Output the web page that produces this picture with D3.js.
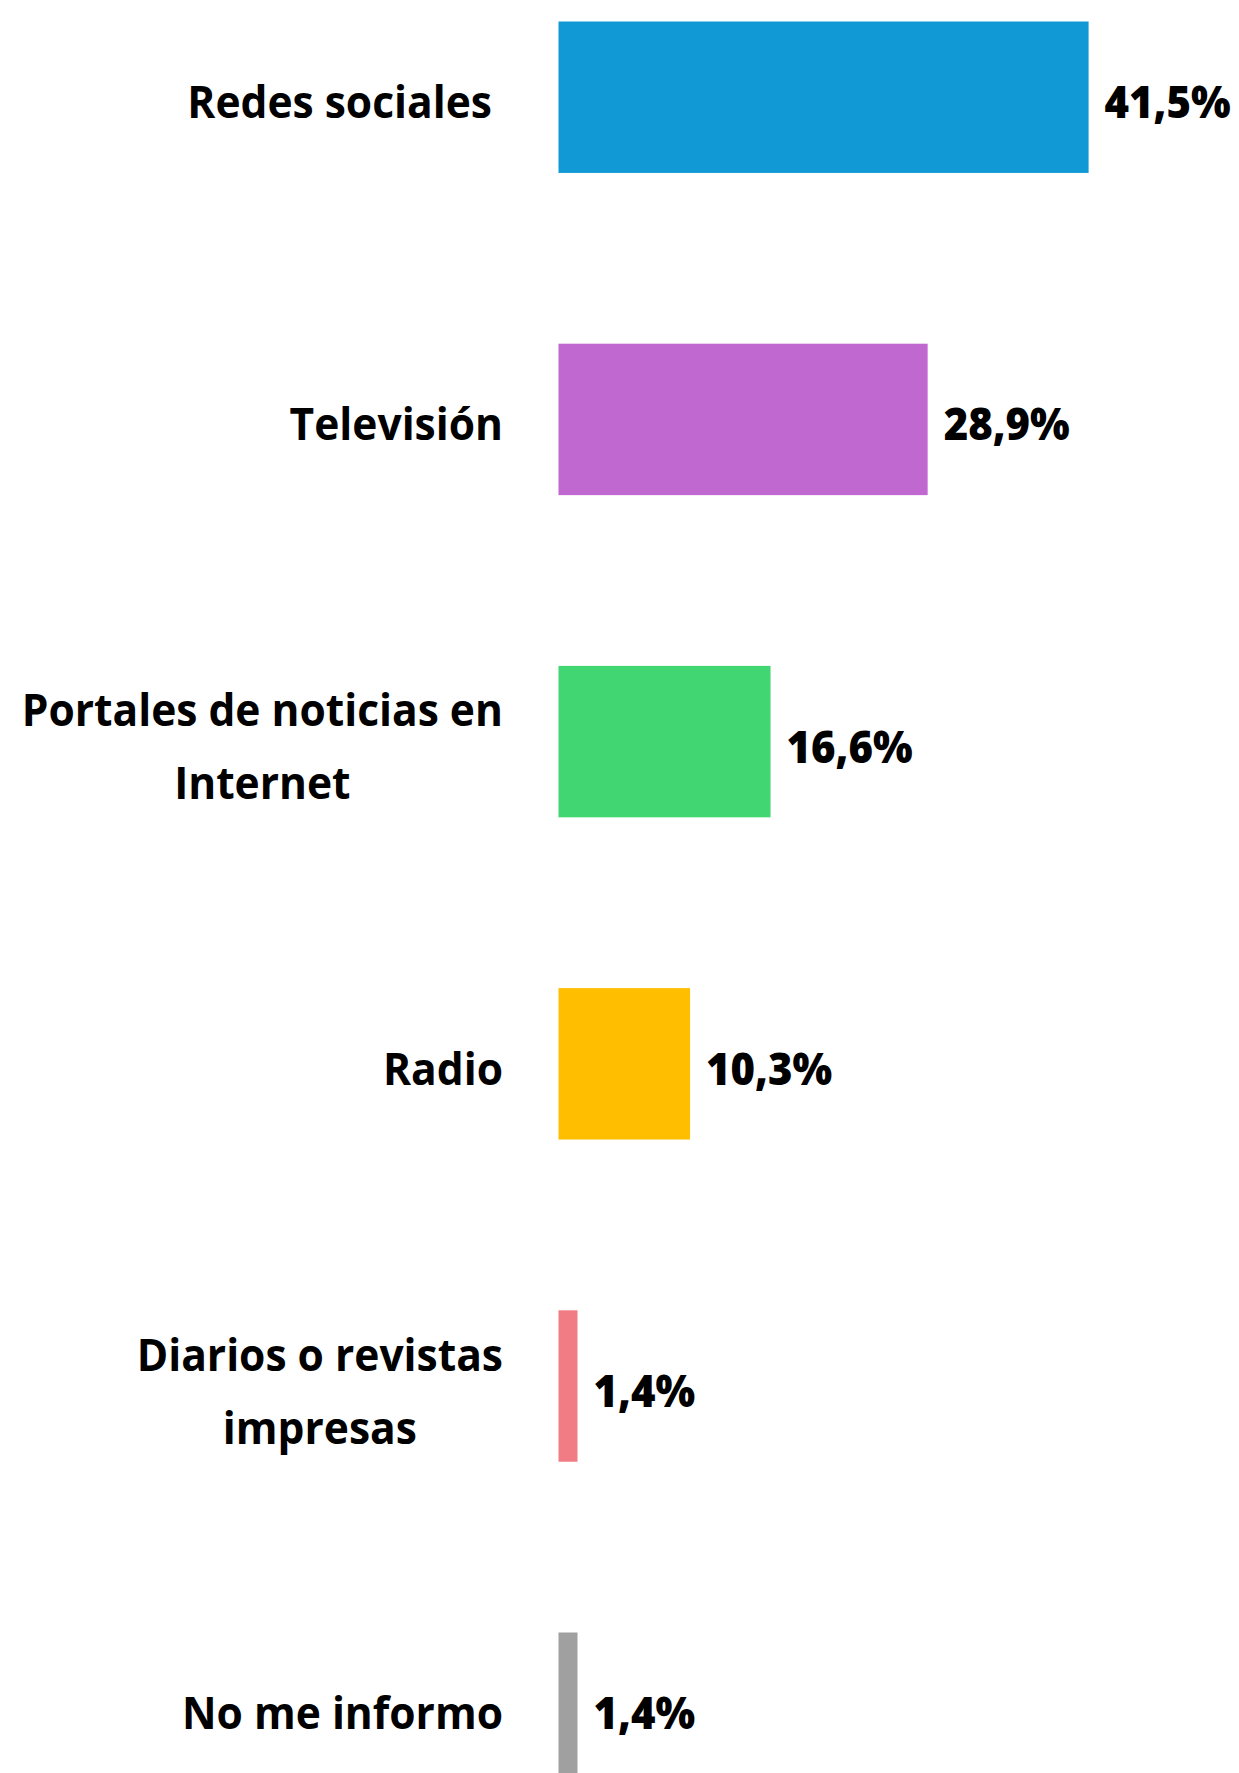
<!DOCTYPE html>
<html><head><meta charset="utf-8">
<script src="https://cdn.jsdelivr.net/npm/d3@7"></script>
<style>html,body{margin:0;padding:0;background:#fff;overflow:hidden}</style>
</head><body>
<svg id="chart" width="1239" height="1773"></svg>
<script>
const categories = ["Redes sociales", "Televisión", "Portales de noticias en Internet", "Radio", "Diarios o revistas impresas", "No me informo"];
const labelLines = [["Redes sociales\u00a0"], ["Televisión"], ["Portales de noticias en", "Internet"], ["Radio"], ["Diarios o revistas", "impresas"], ["No me informo"]];
const values = [41.5, 28.9, 16.6, 10.3, 1.4, 1.4];
const valueLabels = ["41,5%", "28,9%", "16,6%", "10,3%", "1,4%", "1,4%"];
const colors = ["#1199D6", "#C068CF", "#42D672", "#FFBF00", "#F27C83", "#A0A0A0"];

const svg = d3.select("#chart");
const FONT = "'Open Sans', 'Noto Sans', sans-serif";
const FS = 45, SX = 0.945, SXV = 0.93, LINE = 73, BASE = 21, MINW = 19;
const step = 322.2, pad = 0.53, y0 = 21.5;
const y = d3.scaleBand().domain(categories)
  .range([y0, y0 + step * (categories.length - pad)])
  .paddingInner(pad).paddingOuter(0);
const x = d3.scaleLinear().domain([0, d3.max(values)]).range([558.5, 1088.6]);

const data = categories.map((c, i) => ({c, v: values[i], lab: valueLabels[i], lines: labelLines[i], col: colors[i]}));

svg.selectAll("rect.bar").data(data).join("rect")
  .attr("class", "bar")
  .attr("x", x(0)).attr("y", d => y(d.c))
  .attr("width", d => Math.max(MINW, x(d.v) - x(0)))
  .attr("height", y.bandwidth())
  .attr("fill", d => d.col);

svg.selectAll("text.val").data(data).join("text")
  .attr("class", "val")
  .attr("transform", d => `translate(${x(0) + Math.max(MINW, x(d.v) - x(0)) + 16},${y(d.c) + y.bandwidth() / 2 + BASE}) scale(${SXV},1)`)
  .attr("font-family", FONT).attr("font-weight", 800).attr("font-size", FS)
  .attr("fill", "#000")
  .text(d => d.lab);

const RIGHT = 503;
data.forEach(d => {
  const g = svg.append("g");
  const cy = y(d.c) + y.bandwidth() / 2 + BASE;
  const n = d.lines.length;
  const texts = d.lines.map((ln, i) => g.append("text")
    .attr("font-family", FONT).attr("font-weight", 700).attr("font-size", FS)
    .attr("fill", "#000").attr("text-anchor", "middle")
    .attr("xml:space", "preserve")
    .text(ln));
  const widths = texts.map(t => t.node().getComputedTextLength() * SX);
  const maxW = d3.max(widths);
  const cx = RIGHT - maxW / 2;
  texts.forEach((t, i) => t.attr("transform", `translate(${cx},${cy + (i - (n - 1) / 2) * LINE}) scale(${SX},1)`));
});
</script>
</body></html>
